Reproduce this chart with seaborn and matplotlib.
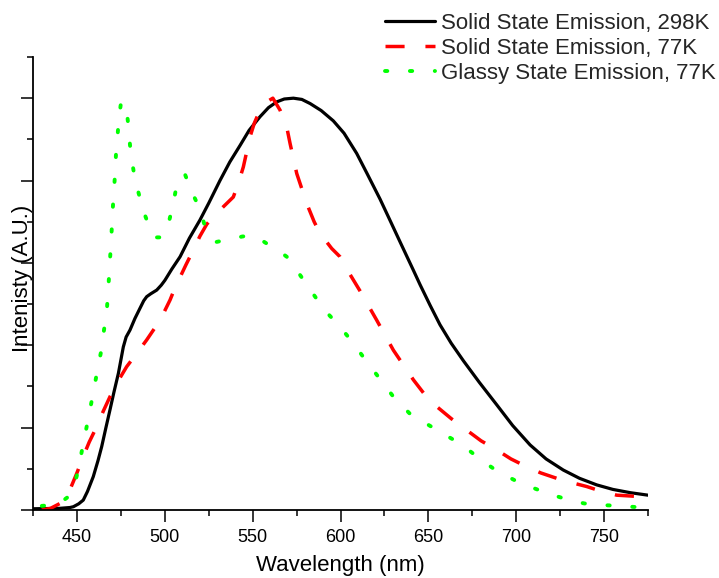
import matplotlib
matplotlib.use("Agg")
import matplotlib.pyplot as plt
from matplotlib.ticker import MultipleLocator
import seaborn as sns
import pandas as pd

# ---- data ----
series_names = ["Solid State Emission, 298K", "Solid State Emission, 77K", "Glassy State Emission, 77K"]

wl_298 = [425, 440, 446, 448, 451, 453.6, 456, 459.3, 462, 464.1, 466.5, 468.8, 471, 473.6, 476.4, 478,
          480.2, 483, 485.9, 488, 489.7, 492, 495.4, 498, 500.1, 504, 508.7, 514, 520, 525, 531.4, 537,
          542.8, 548, 554.2, 559, 563.7, 568, 573.2, 578, 582.7, 589, 595.9, 602, 609.2, 615, 622.5, 628,
          633.9, 641.5, 645.3, 651, 656.6, 663, 670, 679, 689, 698, 707.9, 717, 726.8, 736, 745.8, 755, 765, 775]
int_298 = [0.003, 0.004, 0.006, 0.008, 0.015, 0.024, 0.045, 0.081, 0.12, 0.154, 0.2, 0.243, 0.285, 0.332,
           0.396, 0.42, 0.437, 0.465, 0.49, 0.508, 0.518, 0.525, 0.534, 0.546, 0.558, 0.585, 0.615, 0.66,
           0.704, 0.745, 0.80, 0.845, 0.885, 0.922, 0.955, 0.977, 0.991, 0.998, 1.0, 0.997, 0.987, 0.97,
           0.945, 0.915, 0.866, 0.818, 0.755, 0.705, 0.651, 0.582, 0.547, 0.497, 0.45, 0.405, 0.362, 0.31,
           0.255, 0.205, 0.158, 0.124, 0.097, 0.077, 0.061, 0.05, 0.042, 0.036]

wl_77 = [430, 435, 440.4, 446, 450, 453.6, 457, 461.2, 465, 468.8, 473, 478.3, 484, 489.7, 494, 499.2,
         503, 506.8, 509, 512, 516.2, 520, 523.9, 527.6, 533, 539, 542, 544.7, 548.5, 551, 554.2, 558,
         561.5, 565.6, 569.4, 571.3, 575.1, 580.8, 585, 588.3, 595, 599.7, 605, 611.1, 620.6, 630.1,
         641.5, 648, 654.8, 663, 671.8, 680, 688.9, 697, 706, 714, 723, 731, 740.1, 748, 757.2, 765, 775]
int_77 = [0.0, 0.004, 0.016, 0.049, 0.09, 0.13, 0.165, 0.202, 0.24, 0.275, 0.31, 0.348, 0.38, 0.413, 0.44,
          0.477, 0.51, 0.55, 0.568, 0.595, 0.631, 0.665, 0.694, 0.712, 0.735, 0.76, 0.795, 0.833, 0.906,
          0.94, 0.971, 0.991, 1.0, 0.971, 0.93, 0.89, 0.817, 0.744, 0.70, 0.672, 0.635, 0.615, 0.575,
          0.532, 0.461, 0.388, 0.316, 0.28, 0.251, 0.222, 0.194, 0.168, 0.146, 0.124, 0.105, 0.09, 0.077,
          0.067, 0.057, 0.046, 0.036, 0.034, 0.031]

wl_glass = [430, 436, 441.3, 445, 448, 450.8, 453.6, 456.5, 460.3, 462.2, 464.1, 465.4, 466.9, 468.1, 468.8,
            469.4, 470.4, 471.1, 471.7, 472.2, 473, 473.8, 475.1, 476.5, 478.3, 479.4, 480.2, 481.5, 483.1,
            485.9, 488.7, 492.6, 495, 498.3, 502.6, 504.9, 506.8, 509, 511.5, 515.3, 520.1, 522.9, 526,
            529.5, 534, 539, 544, 549.5, 554, 559.5, 564, 569.4, 576.6, 583.6, 590.6, 599.7, 607.3, 614.9,
            622.5, 630.1, 639.2, 649.1, 658.9, 669, 679, 688.9, 698.8, 708.8, 718.7, 728.8, 738.6, 748.7,
            758.7, 768.6, 775]
int_glass = [0.01, 0.012, 0.02, 0.032, 0.053, 0.097, 0.162, 0.222, 0.308, 0.352, 0.392, 0.437, 0.477, 0.555,
             0.607, 0.647, 0.732, 0.777, 0.817, 0.862, 0.902, 0.947, 0.99, 0.99, 0.971, 0.928, 0.886, 0.843,
             0.801, 0.757, 0.716, 0.672, 0.662, 0.662, 0.704, 0.746, 0.789, 0.81, 0.815, 0.773, 0.73, 0.688,
             0.665, 0.651, 0.655, 0.659, 0.664, 0.667, 0.658, 0.643, 0.632, 0.615, 0.573, 0.53, 0.487, 0.445,
             0.405, 0.36, 0.318, 0.275, 0.235, 0.209, 0.184, 0.159, 0.125, 0.095, 0.073, 0.055, 0.039, 0.026,
             0.016, 0.012, 0.01, 0.007, 0.005]

x_ticks = [450, 500, 550, 600, 650, 700, 750]

# ---- plot ----
sns.set_theme(style="ticks")
plt.rcParams["font.family"] = ["Liberation Sans", "DejaVu Sans"]

fig = plt.figure(figsize=(7.19, 5.78), dpi=100)
ax = fig.add_axes([33 / 719, 68 / 578, 615 / 719, 453 / 578])

datasets = [(wl_298, int_298), (wl_77, int_77), (wl_glass, int_glass)]
colors = ["#000000", "#ff0000", "#00ff00"]
widths = [2.3, 2.5, 2.8]
for (xs, ys), name, c, lw in zip(datasets, series_names, colors, widths):
    df = pd.DataFrame({"wl": xs, "I": ys})
    sns.lineplot(data=df, x="wl", y="I", color=c, linewidth=lw, label=name, ax=ax, estimator=None)

lines = ax.get_lines()
lines[1].set_dashes((5.5, 6))
lines[1].set_dash_capstyle("butt")
lines[2].set_dashes((0.6, 5.8))
lines[2].set_dash_capstyle("round")

ax.set_xlim(425, 775)
ax.set_ylim(0, 1.1)
ax.set_xticks(x_ticks)
ax.xaxis.set_minor_locator(MultipleLocator(25))
ax.yaxis.set_major_locator(MultipleLocator(0.2))
ax.yaxis.set_minor_locator(MultipleLocator(0.1))
ax.tick_params(axis="both", which="major", direction="out", length=8.5, width=1.1, color="black")
ax.tick_params(axis="both", which="minor", direction="out", length=4.5, width=1.1, color="black")
ax.tick_params(axis="x", labelsize=13, pad=5, labelcolor="black")
ax.tick_params(axis="y", labelleft=False)
for s in ["top", "right"]:
    ax.spines[s].set_visible(False)
for s in ["left", "bottom"]:
    ax.spines[s].set_linewidth(1.3)
    ax.spines[s].set_color("black")

ax.set_xlabel("Wavelength (nm)", fontsize=16, color="black")
ax.set_ylabel("Intenisty (A.U.)", fontsize=16, color="black")
ax.xaxis.set_label_coords(0.5, -0.1)
ax.yaxis.set_label_coords(0.0, 0.512)

handles, labels = ax.get_legend_handles_labels()
ax.get_legend().remove()
fig.legend(handles, labels, loc="upper left", bbox_to_anchor=(385 / 719, 1 - 13 / 578),
           bbox_transform=fig.transFigure, frameon=False, fontsize=16, borderpad=0,
           borderaxespad=0, handlelength=2.25, handletextpad=0.25, labelspacing=0.18)

fig.savefig("out.png", dpi=100)
